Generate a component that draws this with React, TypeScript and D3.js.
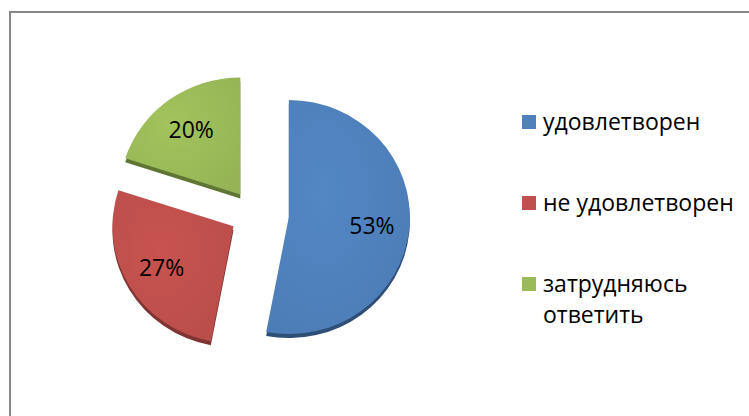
import React from "react";
import * as d3 from "d3";

const categories = ["удовлетворен", "не удовлетворен", "затрудняюсь ответить"];
const legendLines = [["удовлетворен"], ["не удовлетворен"], ["затрудняюсь", "ответить"]];
const values = [53, 27, 20];
const labels = ["53%", "27%", "20%"];
const colors = ["#4F81BD", "#C0504D", "#9BBB59"];
const sideColors = ["#2F4F77", "#7E3532", "#5F7533"];
const explode = [34, 25, 25];

const W = 749;
const H = 416;
const CX = 255;
const CY = 214;
const RX = 121;
const YSCALE = 0.967;
const DEPTH = 4;
const FONT = "'Open Sans', 'Noto Sans', sans-serif";

export default function App() {
  const pie = d3.pie<number>().sort(null).value((d) => d)(values);
  const arc = d3.arc<d3.PieArcDatum<number>>().innerRadius(0).outerRadius(RX);

  const legendY = d3.scalePoint<string>().domain(categories).range([122, 284]);

  return (
    <svg
      width={W}
      height={H}
      style={{ position: "absolute", left: 0, top: 0, background: "#fff" }}
    >
      <defs>
        {colors.map((c, i) => (
          <radialGradient key={i} id={`g${i}`} cx="0.4" cy="0.4" r="0.75">
            <stop offset="0" stopColor={d3.color(c)!.brighter(0.12).toString()} />
            <stop offset="1" stopColor={d3.color(c)!.darker(0.12).toString()} />
          </radialGradient>
        ))}
      </defs>
      <rect x={10} y={12} width={800} height={500} fill="#fff" stroke="#878787" strokeWidth={2} />
      {pie.map((p, i) => {
        const mid = (p.startAngle + p.endAngle) / 2;
        const ox = CX + explode[i] * Math.sin(mid);
        const oy = CY - explode[i] * Math.cos(mid) * YSCALE;
        const path = arc(p) || "";
        const lr = RX * 0.69;
        const lx = ox + lr * Math.sin(mid);
        const ly = oy - lr * Math.cos(mid) * YSCALE;
        return (
          <g key={i}>
            <g transform={`translate(${ox},${oy + DEPTH}) scale(1,${YSCALE})`}>
              <path d={path} fill={sideColors[i]} />
            </g>
            <g transform={`translate(${ox},${oy}) scale(1,${YSCALE})`}>
              <path d={path} fill={`url(#g${i})`} />
            </g>
            <text
              x={lx}
              y={ly}
              textAnchor="middle"
              dominantBaseline="central"
              fontFamily={FONT}
              fontSize={23}
              fill="#000"
            >
              {labels[i]}
            </text>
          </g>
        );
      })}
      {categories.map((c, i) => {
        const y = legendY(c)!;
        return (
          <g key={c}>
            <rect x={522} y={y - 7} width={14} height={14} fill={colors[i]} />
            {legendLines[i].map((t, j) => (
              <text
                key={j}
                x={543}
                y={y + 8 + j * 31}
                fontFamily={FONT}
                fontSize={23}
                fill="#000"
              >
                {t}
              </text>
            ))}
          </g>
        );
      })}
    </svg>
  );
}
